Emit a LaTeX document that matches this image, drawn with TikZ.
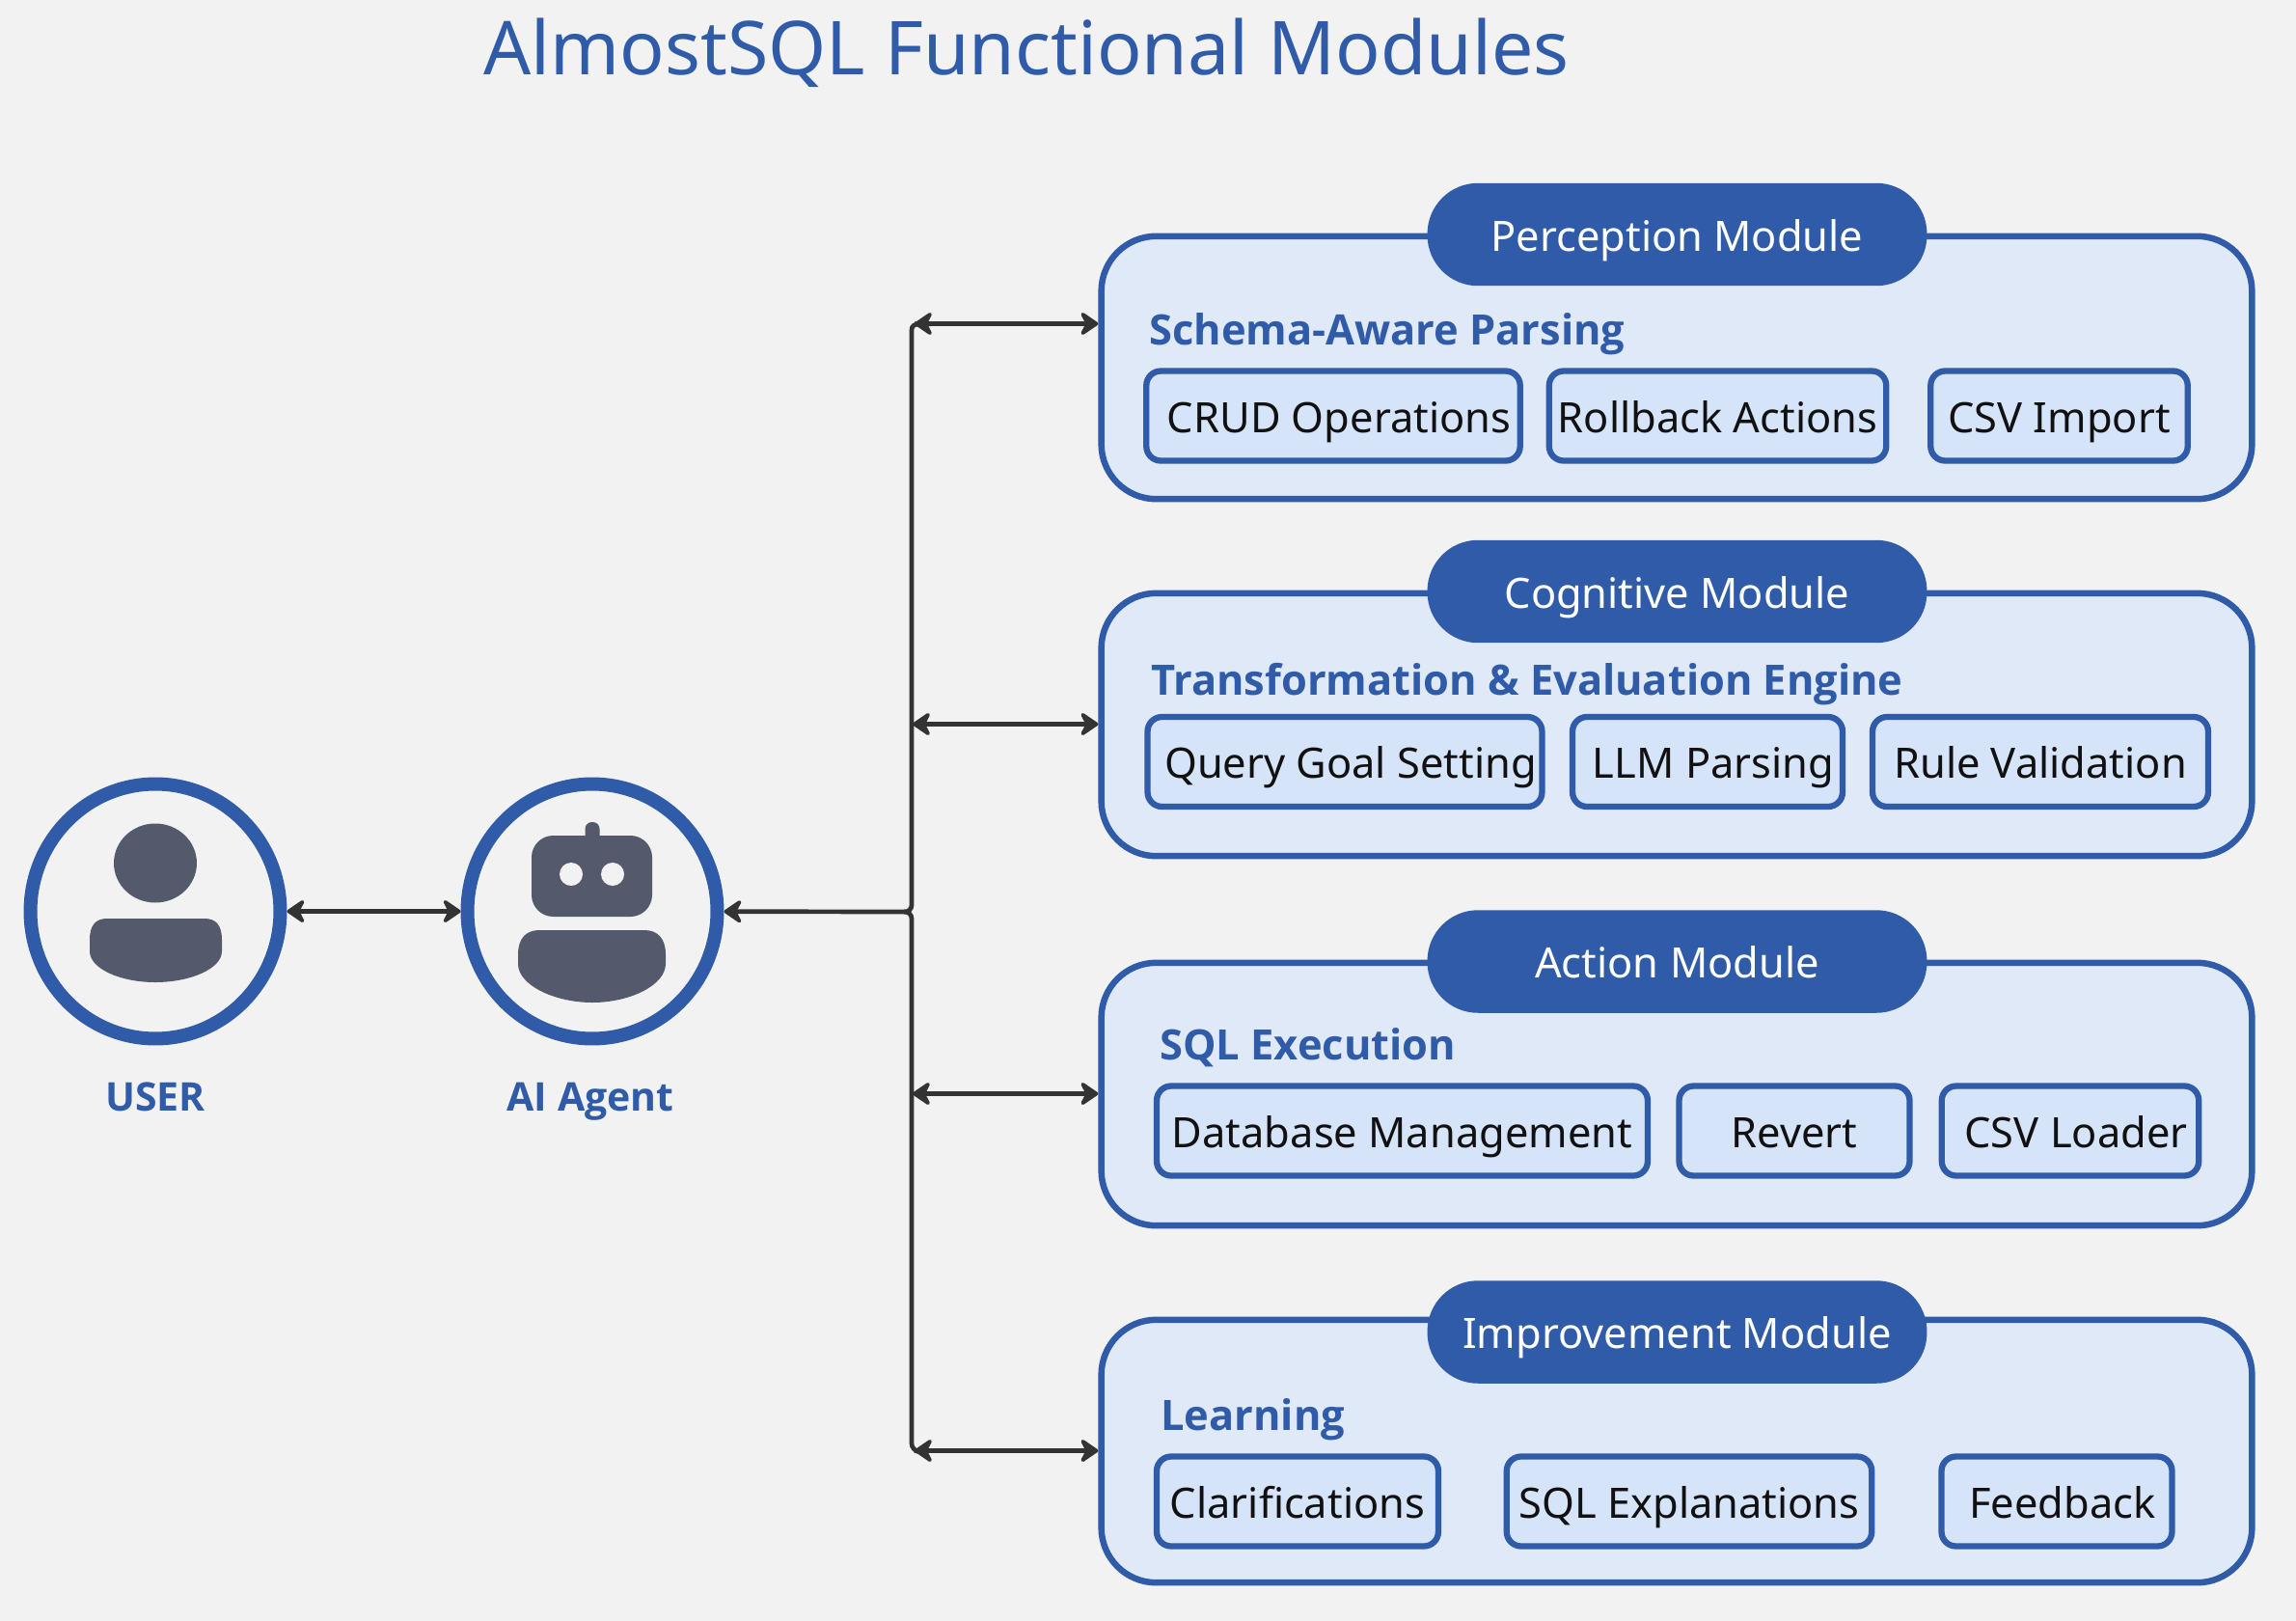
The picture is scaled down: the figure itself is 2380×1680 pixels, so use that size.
\documentclass[tikz,border=0pt]{standalone}
\usepackage{fontspec}
\setmainfont{Noto Sans}
\newfontfamily\headfont{Open Sans}
\usetikzlibrary{arrows.meta,calc,shapes.geometric}
\definecolor{bgc}{HTML}{F2F2F2}
\definecolor{blu}{HTML}{2F5BA8}
\definecolor{modf}{HTML}{DFE9F8}
\definecolor{subf}{HTML}{D5E4F9}
\definecolor{icon}{HTML}{545A6B}
\definecolor{dark}{HTML}{333333}
\definecolor{ink}{HTML}{111111}
\newcommand{\fs}[1]{\fontsize{\fpeval{#1*0.569}pt}{\fpeval{#1*0.68}pt}\selectfont}
\newcommand{\nudge}{\hspace*{0.24cm}}
\tikzset{
  x=0.02cm,y=-0.02cm,
  titletext/.style={text=blu,inner sep=0pt,font=\fs{77.1}},
  modbox/.style={draw=blu,fill=modf,line width=6.5*0.569pt,rounded corners=1.14cm,inner sep=0pt,minimum width=23.86cm,minimum height=5.45cm},
  pill/.style={fill=blu,rounded corners=1.05cm,inner sep=0pt,text=white,font=\fs{43.4},minimum width=10.36cm,minimum height=2.13cm,text height=0.8cm,text depth=0.12cm},
  sect/.style={text=blu,inner sep=0pt,font=\headfont\bfseries\fs{43.4},anchor=base west},
  subbox/.style={draw=blu,fill=subf,line width=6.3*0.569pt,rounded corners=0.3cm,inner sep=0pt,text=ink,font=\fs{43.4},minimum height=1.86cm,text height=0.8cm,text depth=0.12cm},
  actor/.style={ellipse,draw=blu,line width=14*0.569pt,fill=bgc,minimum width=5.18cm,minimum height=5.28cm,inner sep=0pt},
  actorlabel/.style={text=blu,inner sep=0pt,font=\headfont\bfseries\fs{41},anchor=base},
  link/.style={draw=dark,line width=4.7*0.569pt,rounded corners=0.14cm},
  dbl/.style={link,{Stealth[round,inset=1.5mm,length=4.4mm,width=6mm]}-{Stealth[round,inset=1.5mm,length=4.4mm,width=6mm]}},
  sgl/.style={link,{Stealth[round,inset=1.5mm,length=4.4mm,width=6mm]}-},
}
\begin{document}
\begin{tikzpicture}
\useasboundingbox[fill=bgc] (0,0) rectangle (2380,1680);
\node[titletext] (title) at (1064,55) {AlmostSQL Functional Modules};

% modules
\node[modbox] (m1) at (1738,381) {};
\node[modbox] (m2) at (1738,751) {};
\node[modbox] (m3) at (1738,1134) {};
\node[modbox] (m4) at (1738,1504) {};

\node[pill] (p1) at (1738.5,243) {Perception Module};
\node[pill] (p2) at (1738.5,613) {Cognitive Module};
\node[pill] (p3) at (1738.5,996.5) {Action Module};
\node[pill] (p4) at (1738.5,1380.5) {Improvement Module};

\node[sect] (s1) at (1191,357) {Schema-Aware Parsing};
\node[sect] (s2) at (1193,720) {Transformation \& Evaluation Engine};
\node[sect] (s3) at (1202,1098.5) {SQL Execution};
\node[sect] (s4) at (1203,1482) {Learning};

\node[subbox,minimum width=7.75cm] (a1) at (1382,431) {\nudge CRUD Operations};
\node[subbox,minimum width=6.99cm] (a2) at (1780.5,431) {Rollback Actions};
\node[subbox,minimum width=5.33cm] (a3) at (2134.5,431) {CSV Import};

\node[subbox,minimum width=8.18cm] (b1) at (1394,789.5) {\nudge Query Goal Setting};
\node[subbox,minimum width=5.6cm] (b2) at (1770,789.5) {\nudge LLM Parsing};
\node[subbox,minimum width=6.96cm] (b3) at (2115,789.5) {Rule Validation};

\node[subbox,minimum width=10.18cm] (c1) at (1453.5,1172) {Database Management};
\node[subbox,minimum width=4.78cm] (c2) at (1860,1172) {Revert};
\node[subbox,minimum width=5.33cm] (c3) at (2146,1172) {\nudge CSV Loader};

\node[subbox,minimum width=5.84cm] (d1) at (1345,1556) {Clarifications};
\node[subbox,minimum width=7.57cm] (d2) at (1751,1556) {SQL Explanations};
\node[subbox,minimum width=4.78cm] (d3) at (2132,1556) {\nudge Feedback};

% actors
\node[actor] (user) at (161,944.5) {};
\node[actor] (agent) at (614,944.5) {};
\node[actorlabel] (ul) at (161,1151) {USER};
\node[actorlabel] (al) at (612,1151) {AI Agent};

% user icon
\fill[icon] (161,894.5) ellipse [x radius=43,y radius=41];
\fill[icon] (93,974) -- (93,986) .. controls (93,1004) and (125,1018) .. (161,1018)
  .. controls (197,1018) and (230,1004) .. (230,986) -- (230,974)
  .. controls (230,959) and (224,952) .. (212,952) -- (111,952)
  .. controls (99,952) and (93,959) .. (93,974) -- cycle;
% robot icon
\fill[icon,rounded corners=0.14cm] (606.5,852) rectangle (621.5,881);
\fill[icon,rounded corners=0.45cm] (551,866) rectangle (676,950);
\fill[bgc] (592,906) circle (12) (635,906) circle (12);
\fill[icon] (537,989) -- (537,999) .. controls (537,1021) and (575,1039) .. (614,1039)
  .. controls (653,1039) and (690,1021) .. (690,999) -- (690,989)
  .. controls (690,973) and (682,964) .. (668,964) -- (559,964)
  .. controls (545,964) and (537,973) .. (537,989) -- cycle;

% connectors
\coordinate (jn) at (945,945);
\coordinate (js) at (937,945);
\coordinate (t1) at (945,335);
\coordinate (t4) at (945,1503);
\coordinate (h1) at (948,335.5);
\coordinate (h2) at (946,750.5);
\coordinate (h3) at (946,1133.5);
\coordinate (h4) at (948,1503.5);
\draw[dbl] (user) -- (agent);
\draw[sgl] (agent) -- (jn) -- (t1) -- (h1);
\draw[link] (js) -- (jn) -- (t4) -- (h4);
\draw[dbl] (h1) -- (m1.west |- h1);
\draw[dbl] (h2) -- (m2.west |- h2);
\draw[dbl] (h3) -- (m3.west |- h3);
\draw[dbl] (h4) -- (m4.west |- h4);
\end{tikzpicture}
\end{document}
